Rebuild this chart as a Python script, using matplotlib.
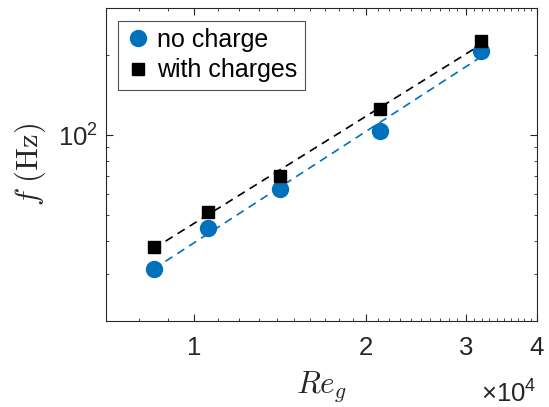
import matplotlib
matplotlib.use("Agg")
import matplotlib.pyplot as plt
import numpy as np
from matplotlib.ticker import FixedLocator, FixedFormatter, NullFormatter

plt.rcParams["font.family"] = ["Liberation Sans", "DejaVu Sans"]
plt.rcParams["mathtext.fontset"] = "cm"

# Re_g and frequency values
re_g = [8485, 10595, 14140, 21200, 31920]
f_no_charge = [31.3, 44.6, 62.5, 103.8, 207]
f_with_charges = [38.1, 51.5, 70.3, 124.9, 225]

BLUE = "#0072BD"
AXC = "#262626"

fig = plt.figure(figsize=(5.49, 4.07), dpi=100)
ax = fig.add_axes([0.193, 0.211, 0.785, 0.769])
ax.set_xscale("log")
ax.set_yscale("log")

# power-law fits drawn as dashed lines
lx = np.log10(re_g)
for ys, col in [(f_no_charge, BLUE), (f_with_charges, "black")]:
    p = np.polyfit(lx, np.log10(ys), 1)
    ax.plot(re_g, 10 ** np.polyval(p, lx), color=col, lw=1.2, dashes=(5, 3.5))

ax.plot(re_g, f_no_charge, "o", color=BLUE, ms=11.5, label="no charge")
ax.plot(re_g, f_with_charges, "s", color="black", ms=8.5, label="with charges")

ax.set_xlim(7000, 40000)
ax.set_ylim(20, 300)

ax.xaxis.set_major_locator(FixedLocator([1e4, 2e4, 3e4, 4e4]))
ax.xaxis.set_major_formatter(FixedFormatter(["1", "2", "3", "4"]))
ax.xaxis.set_minor_locator(FixedLocator(np.arange(7000, 40001, 1000)))
ax.xaxis.set_minor_formatter(NullFormatter())
ax.yaxis.set_major_locator(FixedLocator([100]))
ax.yaxis.set_major_formatter(FixedFormatter([r"$\mathregular{10^{2}}$"]))
ax.yaxis.set_minor_locator(FixedLocator([20, 30, 40, 50, 60, 70, 80, 90, 200, 300]))
ax.yaxis.set_minor_formatter(NullFormatter())

ax.tick_params(which="both", direction="in", top=True, right=True, colors=AXC)
ax.tick_params(which="major", length=5, width=0.8)
ax.tick_params(which="minor", length=2.5, width=0.6)
ax.tick_params(axis="x", which="major", labelsize=18.5, pad=11)
ax.tick_params(axis="y", which="major", labelsize=18.5, pad=6)
for s in ax.spines.values():
    s.set_color(AXC)
    s.set_linewidth(0.8)

ax.set_xlabel(r"$Re_g$", fontsize=22.5, color=AXC, labelpad=7)
ax.set_ylabel(r"$f\ (\mathrm{Hz})$", fontsize=22, color=AXC, labelpad=7)
ax.text(1.0, -0.275, r"$\mathregular{\times10^{4}}$", transform=ax.transAxes,
        ha="right", va="bottom", fontsize=18.5, color=AXC)

leg = ax.legend(loc="upper left", fontsize=18, frameon=True, fancybox=False,
                edgecolor=AXC, borderpad=0.3, handlelength=1.0, handletextpad=0.25,
                labelspacing=0.25, borderaxespad=0.5)
leg.get_frame().set_linewidth(0.8)

fig.savefig("out.png", dpi=100)
